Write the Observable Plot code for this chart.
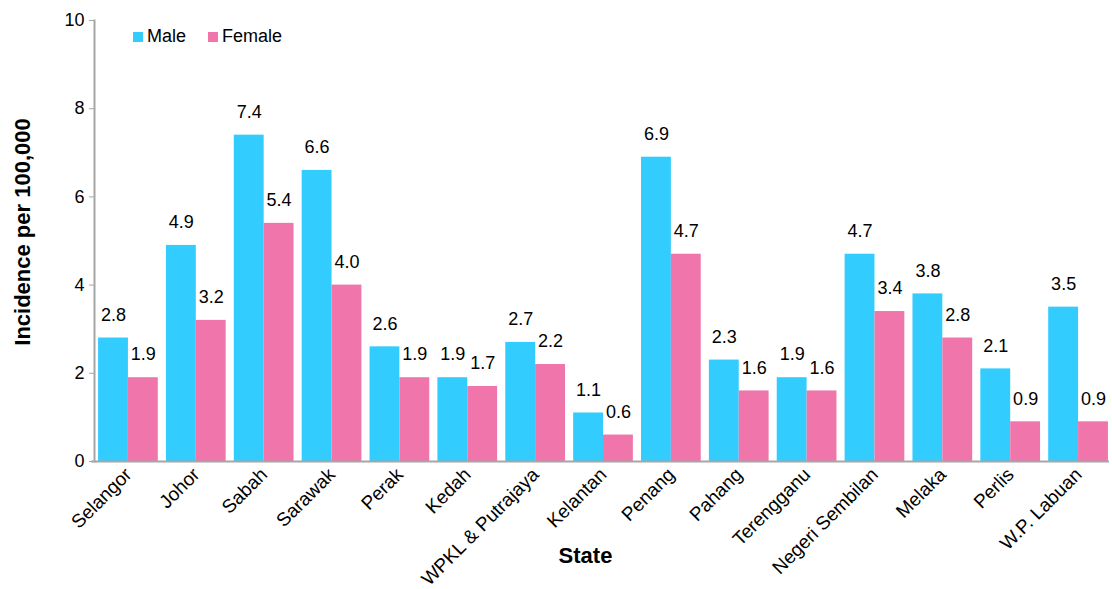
<!DOCTYPE html>
<html><head><meta charset="utf-8">
<script src="https://cdn.jsdelivr.net/npm/d3@7"></script>
<script src="https://cdn.jsdelivr.net/npm/@observablehq/plot@0.6"></script>
<style>
body{margin:0;background:#fff;font-family:"Liberation Sans",Arial,sans-serif;}
#wrap{position:relative;width:1112px;height:589px;}
.leg{position:absolute;top:26px;font-size:18px;display:flex;align-items:center;color:#000;}
.sw{width:10px;height:10px;display:inline-block;margin-right:4px;}
</style></head><body>
<div id="wrap"></div>
<script>
const states = ["Selangor","Johor","Sabah","Sarawak","Perak","Kedah","WPKL & Putrajaya","Kelantan","Penang","Pahang","Terengganu","Negeri Sembilan","Melaka","Perlis","W.P. Labuan"];
const male = [2.8,4.9,7.4,6.6,2.6,1.9,2.7,1.1,6.9,2.3,1.9,4.7,3.8,2.1,3.5];
const female = [1.9,3.2,5.4,4.0,1.9,1.7,2.2,0.6,4.7,1.6,1.6,3.4,2.8,0.9,0.9];
const yTicks = [0,2,4,6,8,10];
const seriesNames = ["Male","Female"];
const colors = ["#33ccff","#f075ab"];

const W = 1112, H = 589, ml = 94, mr = 0, mt = 20, mb = 128;
const pi = 0.12, po = 0.06;
const step = (W - ml - mr) / (states.length - pi + 2 * po);
const bw = step * (1 - pi);
const half = bw / 2;

const maleData = states.map((s, i) => ({state: s, value: male[i]}));
const femaleData = states.map((s, i) => ({state: s, value: female[i]}));
const fmt = d3.format(".1f");

const plot = Plot.plot({
  width: W, height: H,
  marginLeft: ml, marginRight: mr, marginTop: mt, marginBottom: mb,
  style: {fontFamily: '"Liberation Sans", Arial, sans-serif', fontSize: "18px", color: "#000", background: "#fff"},
  x: {domain: states, paddingInner: pi, paddingOuter: po, round: false, label: null},
  y: {domain: [0, 10], label: null},
  marks: [
    Plot.barY(maleData, {x: "state", y: "value", fill: colors[0], insetRight: half}),
    Plot.barY(femaleData, {x: "state", y: "value", fill: colors[1], insetLeft: half}),
    Plot.text(maleData, {x: "state", y: "value", text: d => fmt(d.value), dx: -half / 2, dy: -23, fontSize: 18, fill: "#000"}),
    Plot.text(femaleData, {x: "state", y: "value", text: d => fmt(d.value), dx: half / 2, dy: -23, fontSize: 18, fill: "#000"}),
    Plot.frame({anchor: "left", stroke: "#a6a6a6", strokeWidth: 2}),
    Plot.ruleY([0], {stroke: "#a6a6a6", strokeWidth: 2, dx: -3}),
    Plot.axisY({ticks: yTicks, tickSize: 5, tickPadding: 5, fontSize: 18, label: null, stroke: "#a6a6a6", tickFormat: d => String(d)}),
    Plot.axisX({tickSize: 0, tickPadding: 10, tickRotate: -45, fontSize: 19, label: null}),
    Plot.text(["Incidence per 100,000"], {frameAnchor: "left", textAnchor: "middle", rotate: -90, dx: -72, dy: -9, fontSize: 22, fontWeight: "bold", fill: "#000"}),
    Plot.text(["State"], {frameAnchor: "bottom", dx: -18, dy: 101, fontSize: 22, fontWeight: "bold", fill: "#000"})
  ]
});
const wrap = document.getElementById("wrap");
wrap.appendChild(plot);
const legPos = [133, 208];
seriesNames.forEach((n, i) => {
  const d = document.createElement("div");
  d.className = "leg";
  d.style.left = legPos[i] + "px";
  d.innerHTML = `<span class="sw" style="background:${colors[i]}"></span><span>${n}</span>`;
  wrap.appendChild(d);
});
</script>
</body></html>
